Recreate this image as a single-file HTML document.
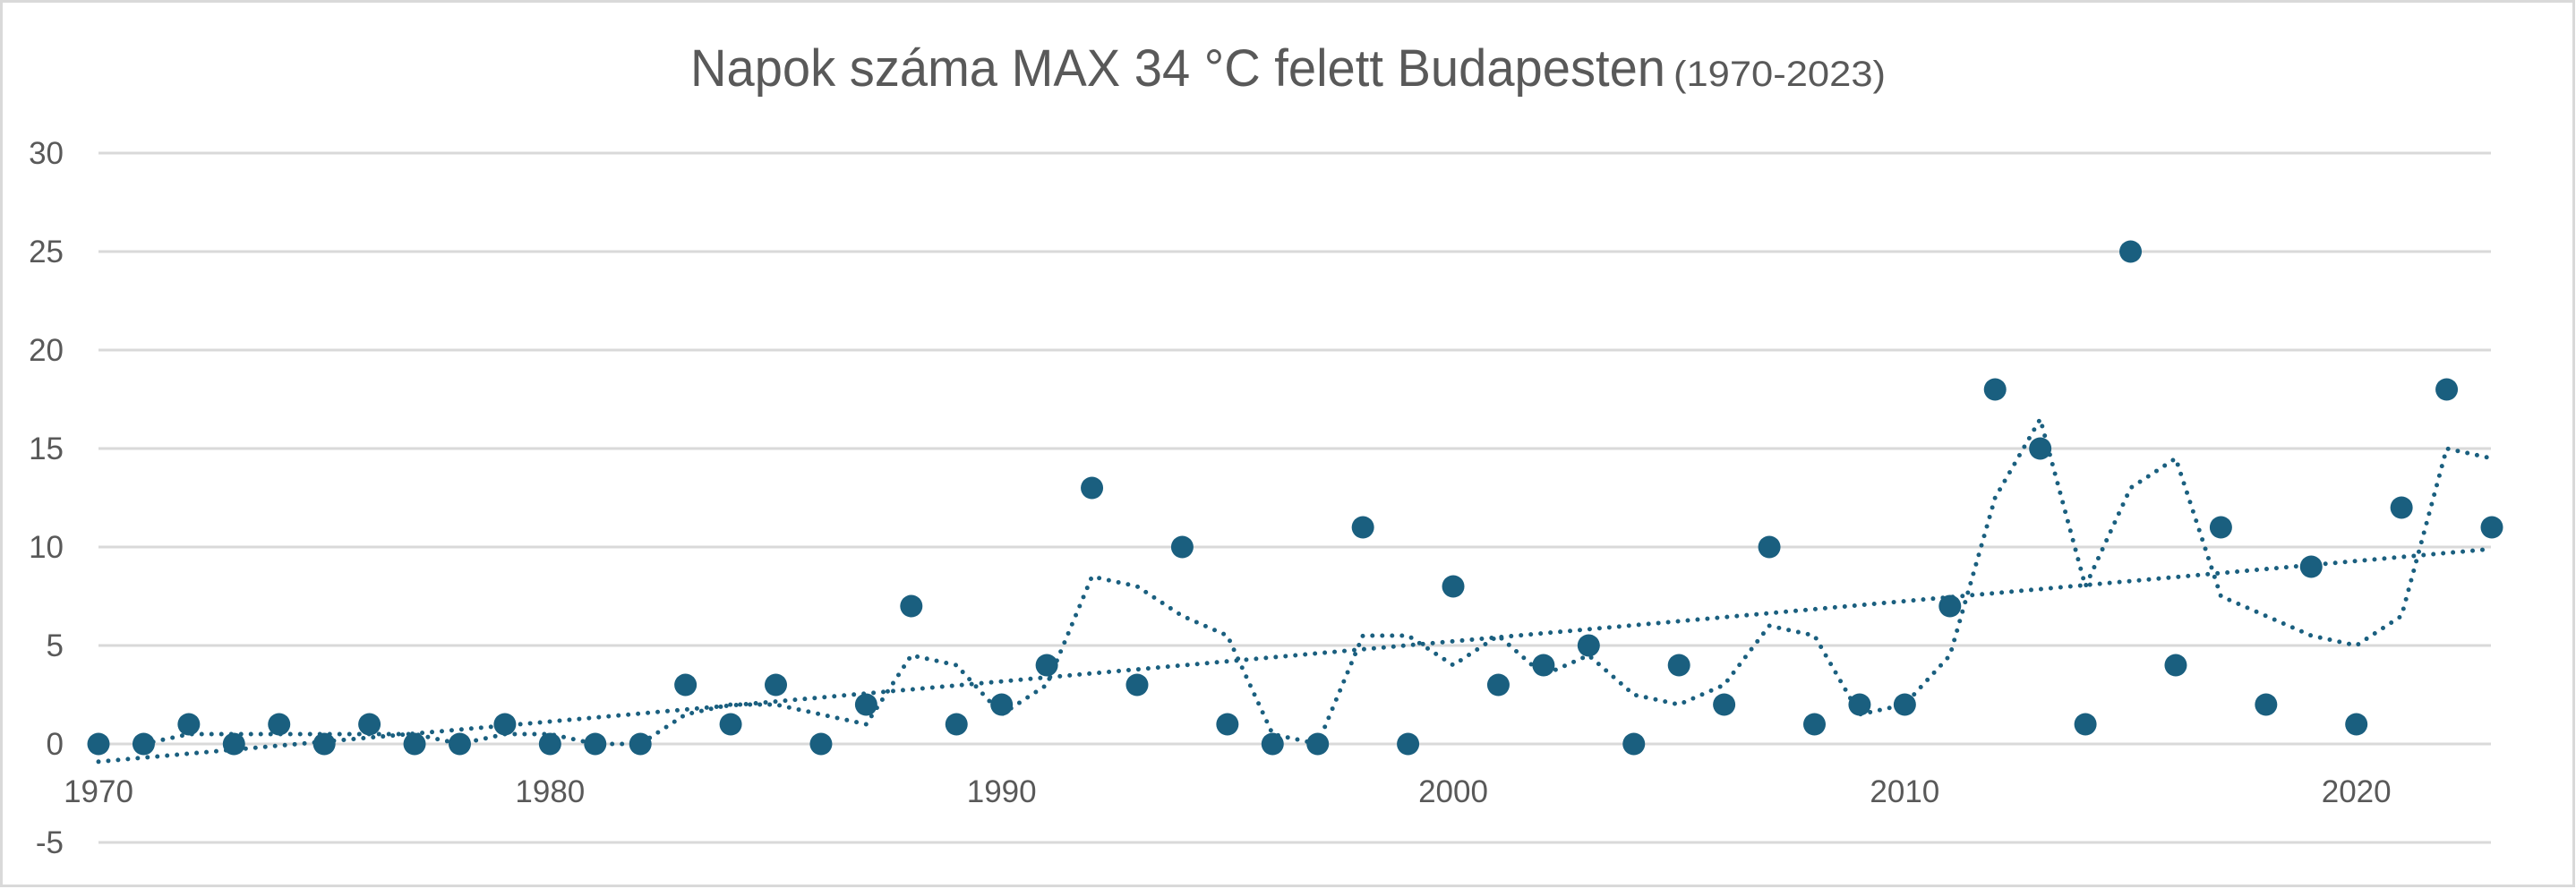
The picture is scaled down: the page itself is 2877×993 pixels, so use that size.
<!DOCTYPE html>
<html><head><meta charset="utf-8"><style>
html,body{margin:0;padding:0;background:#fff;}
svg{display:block;}
text{font-family:"Liberation Sans",sans-serif;fill:#595959;}
</style></head><body>
<svg id="c" width="2877" height="993" xmlns="http://www.w3.org/2000/svg">
<rect x="1.5" y="1.5" width="2873" height="988" fill="#fff" stroke="#d9d9d9" stroke-width="3"/>
<text x="771" y="96" font-size="58" textLength="1089" lengthAdjust="spacingAndGlyphs">Napok száma MAX 34 °C felett Budapesten</text>
<text x="1869" y="96" font-size="40" textLength="237" lengthAdjust="spacingAndGlyphs">(1970-2023)</text>
<g id="grid"></g>
<g id="series"></g>
</svg>
<script>
const ns="http://www.w3.org/2000/svg";
const x0=110,x1=2783,y0=831,per=22; // px per unit
const X=yr=>x0+(yr-1970)*(x1-x0)/53;
const Y=v=>y0-v*per;
const g=document.getElementById('grid'),s=document.getElementById('series');
function el(p,t,a){const e=document.createElementNS(ns,t);for(const k in a)e.setAttribute(k,a[k]);p.appendChild(e);return e;}
for(let v=-5;v<=30;v+=5){
 el(g,'line',{x1:110,x2:2782,y1:Y(v),y2:Y(v),stroke:'#d9d9d9','stroke-width':3});
 const t=el(g,'text',{x:71,y:Y(v)+12,'font-size':35,'text-anchor':'end'});t.textContent=v;
}
for(let yr=1970;yr<=2020;yr+=10){const t=el(g,'text',{x:X(yr),y:896,'font-size':35,'text-anchor':'middle'});t.textContent=yr;}
const d=[0,0,1,0,1,0,1,0,0,1, 0,0,0,3,1,3,0,2,7,1, 2,4,13,3,10,1,0,0,11,0, 8,3,4,5,0,4,2,10,1,2, 2,7,18,15,1,25,4,11,2,9, 1,12,18,11];
const col='#1a5f7f';
let pts=[];
for(let i=1;i<d.length;i++)pts.push(X(1970+i)+','+Y((d[i]+d[i-1])/2));
el(s,'polyline',{points:pts.join(' '),fill:'none',stroke:col,'stroke-width':5,'stroke-dasharray':'0 11','stroke-linecap':'round'});
el(s,'line',{x1:X(1970),y1:Y(-0.9),x2:X(2023),y2:Y(9.9),stroke:col,'stroke-width':5,'stroke-dasharray':'0 11','stroke-linecap':'round'});
d.forEach((v,i)=>el(s,'circle',{cx:X(1970+i),cy:Y(v),r:12.5,fill:col}));
</script>
</body></html>
